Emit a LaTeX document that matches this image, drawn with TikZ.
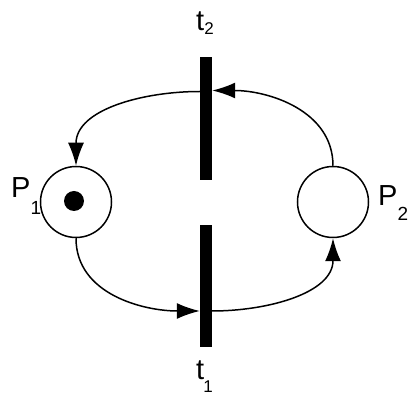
\documentclass[tikz,border=0pt]{standalone}
\usepackage{fontspec}
\setmainfont{Liberation Sans}
\usetikzlibrary{arrows.meta}
\begin{document}
\begin{tikzpicture}[x=1pt,y=-1pt,
  place/.style={draw, line width=1.5pt, circle, inner sep=0pt},
  trans/.style={fill=black, draw=none, rectangle, minimum width=12pt, inner sep=0pt},
  arc/.style={line width=1.5pt, -{Latex[length=23pt,width=16pt]}},
  lab/.style={inner sep=0pt, anchor=base west, font=\fontsize{29}{29}\selectfont}]
\useasboundingbox (0,0) rectangle (408,398);
\node[place, minimum size=71pt] (P1) at (76,202) {};
\node[place, minimum size=71pt] (P2) at (333,202) {};
\fill (74,201) circle (10pt);
\node[trans, minimum height=123pt] (t2) at (206,118.5) {};
\node[trans, minimum height=122pt] (t1) at (206,286) {};
\draw[arc] (P2.north) to[out=90,in=0] ([yshift=28pt]t2.east);
\draw[arc] ([yshift=27pt]t2.west) to[out=180,in=90] (P1.north);
\draw[arc] (P1.south) to[out=-90,in=180] ([yshift=-25pt]t1.west);
\draw[arc] ([yshift=-25pt]t1.east) to[out=0,in=-90] (P2.south);
\node[lab] (lP1) at (11,198) {P\kern0pt\raisebox{-17pt}{\fontsize{19}{19}\selectfont 1}};
\node[lab] (lP2) at (378,206) {P\kern0pt\raisebox{-15pt}{\fontsize{19}{19}\selectfont 2}};
\node[lab] (lt2) at (196,31) {t\kern0pt\raisebox{-4pt}{\fontsize{17}{17}\selectfont 2}};
\node[lab] (lt1) at (196,380) {t\kern-1pt\raisebox{-13pt}{\fontsize{17}{17}\selectfont 1}};
\end{tikzpicture}
\end{document}
